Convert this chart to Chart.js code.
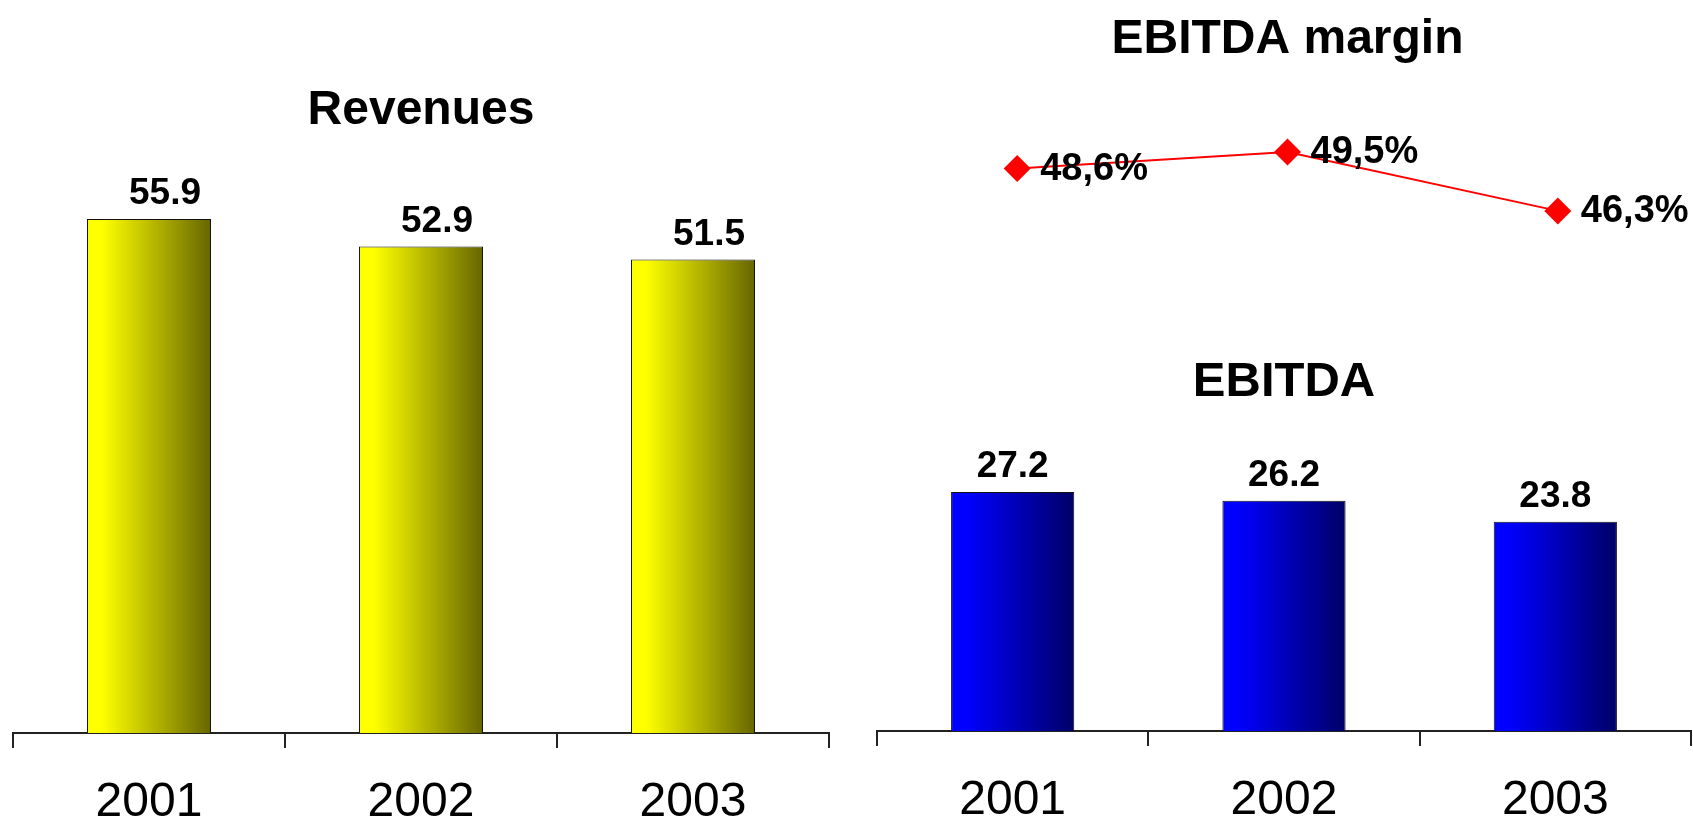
<!DOCTYPE html>
<html>
<head>
<meta charset="utf-8">
<script src="https://cdn.jsdelivr.net/npm/chart.js@4.4.1/dist/chart.umd.min.js"></script>
<style>
  body { margin: 0; background: #fff; overflow: hidden; width: 1693px; height: 822px; }
  canvas { position: absolute; }
</style>
</head>
<body>
<canvas id="revChart" width="846" height="822" style="left:0;top:0"></canvas>
<canvas id="ebitdaChart" width="847" height="522" style="left:846px;top:300px"></canvas>
<canvas id="marginChart" width="861" height="304" style="left:846px;top:0"></canvas>
<script>
// datos
var years = ["2001", "2002", "2003"];
var revenues = [55.9, 52.9, 51.5];
var ebitda = [27.2, 26.2, 23.8];
var ebitdaMargin = [48.6, 49.5, 46.3];

var FONT = "'Liberation Sans', Arial, sans-serif";

// degradado horizontal para cada barra, calculado desde la escala
function barGradient(light, dark, barPct) {
  return function (c) {
    var chart = c.chart;
    var xs = chart.scales.x;
    if (c.dataIndex === undefined || !xs || !xs.width) return light;
    var center = xs.getPixelForValue(c.dataIndex);
    var w = (xs.width / chart.data.labels.length) * barPct;
    var g = chart.ctx.createLinearGradient(center - w / 2, 0, center + w / 2, 0);
    g.addColorStop(0, light);
    g.addColorStop(0.12, light);
    g.addColorStop(1, dark);
    return g;
  };
}

// etiquetas de valores
var valueLabels = {
  id: "valueLabels",
  afterDatasetsDraw: function (chart, args, opts) {
    var ctx = chart.ctx;
    var meta = chart.getDatasetMeta(0);
    var data = chart.data.datasets[0].data;
    ctx.save();
    ctx.font = "bold " + (opts.size || 37) + "px " + FONT;
    ctx.fillStyle = "#000";
    ctx.textAlign = opts.align || "center";
    ctx.textBaseline = "middle";
    meta.data.forEach(function (el, i) {
      ctx.fillText(opts.format(data[i]), el.x + (opts.dx || 0), el.y + (opts.dy || 0));
    });
    ctx.restore();
  },
};

function barOptions(cfg) {
  return {
    responsive: false,
    animation: false,
    layout: { padding: cfg.padding },
    plugins: {
      legend: { display: false },
      tooltip: { enabled: false },
      title: {
        display: true,
        text: cfg.title,
        color: "#000",
        font: { family: FONT, size: cfg.titleSize, weight: "bold", lineHeight: 1.2 },
        padding: cfg.titlePadding,
      },
      valueLabels: {
        dx: cfg.labelDx,
        dy: -25,
        format: function (v) { return v.toFixed(1); },
      },
    },
    scales: {
      x: {
        offset: true,
        grid: { display: true, offset: true, drawOnChartArea: false, drawTicks: true, tickLength: 15, color: "#222", lineWidth: 2 },
        border: { display: true, color: "#222", width: 2 },
        ticks: { color: "#000", padding: 26, font: { family: FONT, size: 48 } },
        afterFit: function (scale) { scale.height = cfg.axisHeight; },
      },
      y: { display: false, min: 0, max: cfg.max },
    },
  };
}

new Chart(document.getElementById("revChart").getContext("2d"), {
  type: "bar",
  data: {
    labels: years,
    datasets: [{
      label: "Revenues",
      data: revenues,
      backgroundColor: barGradient("#ffff00", "#666600", 0.456),
      borderColor: "#111",
      borderWidth: 1,
      categoryPercentage: 1,
      barPercentage: 0.456,
    }],
  },
  options: barOptions({
    title: "Revenues",
    titleSize: 48,
    titlePadding: { top: 82.2, bottom: 41.5 },
    padding: { left: 13, right: 17, top: 0, bottom: 0 },
    axisHeight: 89,
    max: 60,
    labelDx: 16,
  }),
  plugins: [valueLabels],
});

new Chart(document.getElementById("ebitdaChart").getContext("2d"), {
  type: "bar",
  data: {
    labels: years,
    datasets: [{
      label: "EBITDA",
      data: ebitda,
      backgroundColor: barGradient("#0000ff", "#000066", 0.454),
      borderColor: "#111",
      borderWidth: 1,
      categoryPercentage: 1,
      barPercentage: 0.454,
    }],
  },
  options: barOptions({
    title: "EBITDA",
    titleSize: 49,
    titlePadding: { top: 52.6, bottom: 55.9 },
    padding: { left: 31, right: 2, top: 0, bottom: 0 },
    axisHeight: 91,
    max: 30,
    labelDx: 0,
  }),
  plugins: [valueLabels],
});

new Chart(document.getElementById("marginChart").getContext("2d"), {
  type: "line",
  data: {
    labels: years,
    datasets: [{
      label: "EBITDA margin",
      data: ebitdaMargin,
      borderColor: "#ff0000",
      borderWidth: 2,
      backgroundColor: "#ff0000",
      pointStyle: "rectRot",
      pointRadius: 13.5,
      pointBorderWidth: 0,
      pointBackgroundColor: "#ff0000",
      tension: 0,
      clip: false,
    }],
  },
  options: {
    responsive: false,
    animation: false,
    layout: { padding: { left: 36, right: 14, top: 0, bottom: 14 } },
    plugins: {
      legend: { display: false },
      tooltip: { enabled: false },
      title: {
        display: true,
        text: "EBITDA margin",
        color: "#000",
        font: { family: FONT, size: 48, weight: "bold", lineHeight: 1.2 },
        padding: { top: 11.2, bottom: 37.2 },
      },
      valueLabels: {
        align: "left",
        dx: 23,
        dy: 1,
        size: 38,
        format: function (v) { return v.toFixed(1).replace(".", ",") + "%"; },
      },
    },
    scales: {
      x: { display: false, offset: true },
      y: { display: false, min: 42, max: 52 },
    },
  },
  plugins: [valueLabels],
});
</script>
</body>
</html>
